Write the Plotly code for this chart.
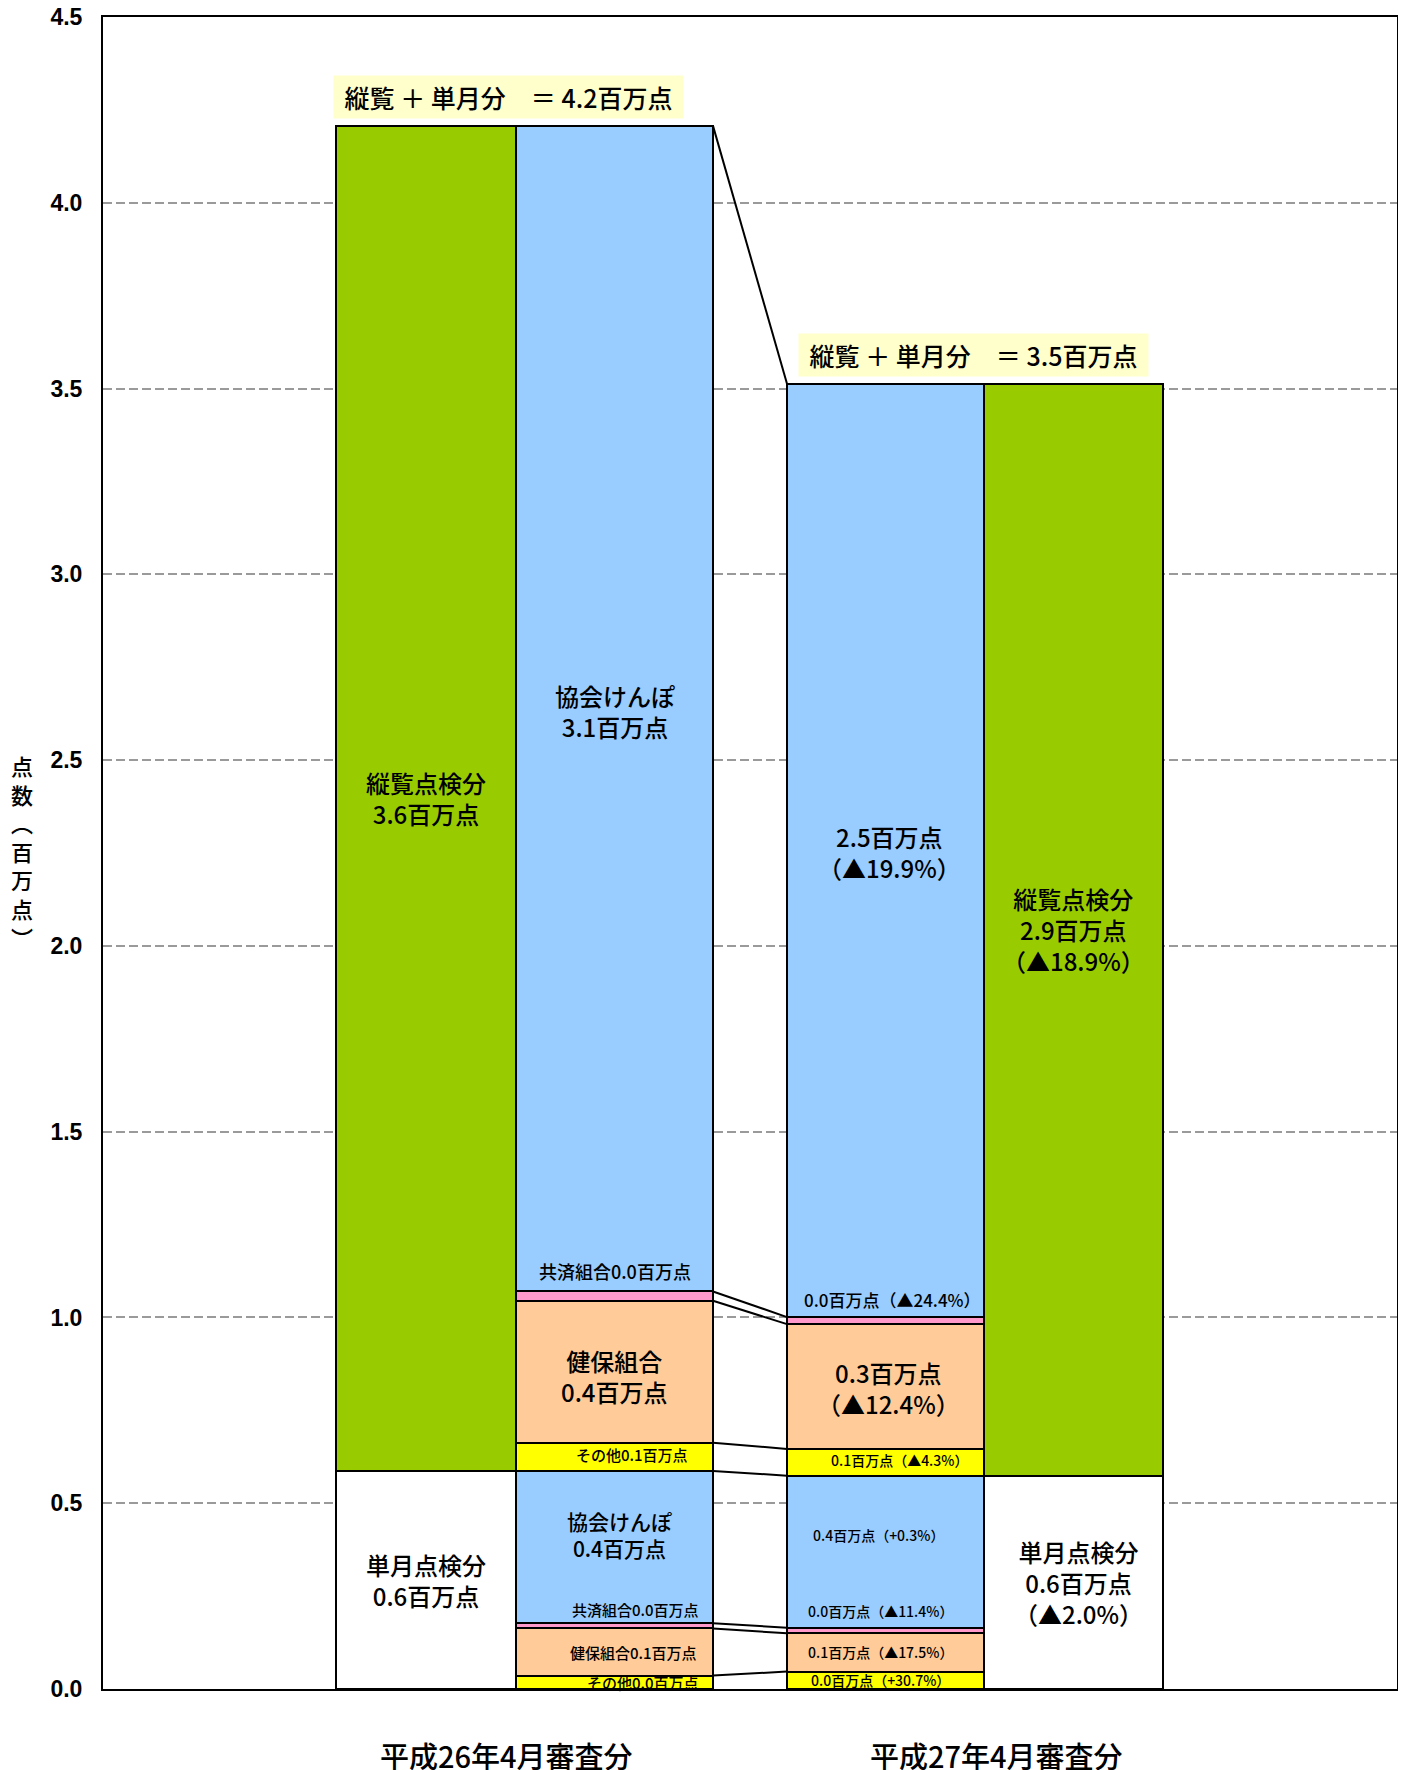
import numpy as np
import plotly.graph_objects as go

# ---------------- data (百万点) ----------------
categories = ["平成26年4月審査分", "平成27年4月審査分"]

# totals (left/right outer columns)
tangetsu_total = [0.587, 0.574]   # 単月点検分
juran_total = [3.620, 2.939]      # 縦覧点検分

# breakdown by insurer, 単月点検分
tan_sonota = [0.036, 0.047]
tan_kenpo = [0.127, 0.103]
tan_kyosai = [0.014, 0.015]
tan_kyokai = [0.410, 0.409]
# breakdown by insurer, 縦覧点検分
ju_sonota = [0.076, 0.072]
ju_kenpo = [0.382, 0.336]
ju_kyosai = [0.025, 0.019]
ju_kyokai = [3.137, 2.512]

y_ticks = [0.0, 0.5, 1.0, 1.5, 2.0, 2.5, 3.0, 3.5, 4.0, 4.5]

total_text = ["縦覧 ＋ 単月分　＝ 4.2百万点", "縦覧 ＋ 単月分　＝ 3.5百万点"]
juran_text = ["縦覧点検分<br>3.6百万点", "縦覧点検分<br>2.9百万点<br>（▲18.9%）"]
tangetsu_text = ["単月点検分<br>0.6百万点", "単月点検分<br>0.6百万点<br>（▲2.0%）"]
ju_kyokai_text = ["協会けんぽ<br>3.1百万点", "2.5百万点<br>（▲19.9%）"]
ju_kyosai_text = ["共済組合0.0百万点", "0.0百万点（▲24.4%）"]
ju_kenpo_text = ["健保組合<br>0.4百万点", "0.3百万点<br>（▲12.4%）"]
ju_sonota_text = ["その他0.1百万点", "0.1百万点（▲4.3%）"]
tan_kyokai_text = ["協会けんぽ<br>0.4百万点", "0.4百万点（+0.3%）"]
tan_kyosai_text = ["共済組合0.0百万点", "0.0百万点（▲11.4%）"]
tan_kenpo_text = ["健保組合0.1百万点", "0.1百万点（▲17.5%）"]
tan_sonota_text = ["その他0.0百万点", "0.0百万点（+30.7%）"]

# ---------------- layout constants ----------------
JP = "Noto Sans CJK JP"
GREEN, BLUE, PEACH, PINK, YELLOW = "#99CC00", "#99CCFF", "#FFCC99", "#FF99CC", "#FFFF00"
# column centres / widths on a 0..1294 horizontal scale
tot_x = [323.0, 970.5]
tot_w = [180.0, 179.0]
brk_x = [511.5, 782.5]
brk_w = [197.0, 197.0]

fig = go.Figure()
line = dict(color="black", width=2)

# outer columns: 単月 (white) + 縦覧 (green)
fig.add_trace(go.Bar(x=tot_x, y=tangetsu_total, width=tot_w,
                     marker=dict(color="white", line=line), hoverinfo="skip"))
fig.add_trace(go.Bar(x=tot_x, y=juran_total, width=tot_w,
                     marker=dict(color=GREEN, line=line), hoverinfo="skip"))

# breakdown columns
segments = [
    (tan_sonota, YELLOW), (tan_kenpo, PEACH), (tan_kyosai, PINK), (tan_kyokai, BLUE),
    (ju_sonota, YELLOW), (ju_kenpo, PEACH), (ju_kyosai, PINK), (ju_kyokai, BLUE),
]
for vals, col in segments:
    fig.add_trace(go.Bar(x=brk_x, y=vals, width=brk_w,
                         marker=dict(color=col, line=line), hoverinfo="skip"))

# cumulative boundaries of the breakdown columns
seg_vals = np.array([s[0] for s in segments])          # shape (8, 2)
cum = np.vstack([np.zeros(2), np.cumsum(seg_vals, axis=0)])  # shape (9, 2)

# connector lines between the two breakdown columns
x_left = brk_x[0] + brk_w[0] / 2
x_right = brk_x[1] - brk_w[1] / 2
cx, cy = [], []
for i in range(1, cum.shape[0]):
    cx += [x_left, x_right, None]
    cy += [cum[i, 0], cum[i, 1], None]
fig.add_trace(go.Scatter(x=cx, y=cy, mode="lines", line=dict(color="black", width=2),
                         hoverinfo="skip"))

annotations = []


def lab(x, y, text, size, yshift=0, xshift=0):
    annotations.append(dict(x=x, y=y, text=text, showarrow=False, xshift=xshift, yshift=yshift,
                            font=dict(family=JP, size=size, color="black", weight=500),
                            align="center"))


for k in range(2):
    # outer columns
    lab(tot_x[k], tangetsu_total[k] / 2, tangetsu_text[k], 24, 0, [0, 5][k])
    lab(tot_x[k], tangetsu_total[k] + juran_total[k] / 2, juran_text[k], 24)
    # breakdown columns
    mid = (cum[:-1, k] + cum[1:, k]) / 2
    bx = brk_x[k]
    lab(bx, mid[0], tan_sonota_text[k], [15, 14][k], 0, [28, -5][k])
    lab(bx, mid[1], tan_kenpo_text[k], [15, 14][k], 0, [19, -5][k])
    lab(bx, cum[3, k], tan_kyosai_text[k], [15, 14][k], [14, 17][k], [21, -5][k])
    lab(bx, mid[3], tan_kyokai_text[k], [21, 14][k], [13, 17][k], [5, -7][k])
    lab(bx, mid[4], ju_sonota_text[k], [15, 14][k], 2, [17, 14][k])
    lab(bx, mid[5], ju_kenpo_text[k], 24, [-4, -1][k], [0, 3][k])
    lab(bx, cum[7, k], ju_kyosai_text[k], [18, 17][k], [20, 18][k], [0, 7][k])
    lab(bx, mid[7], ju_kyokai_text[k], 24, [-2, -2][k], [0, 4][k])

# total boxes
box_x = [(tot_x[0] - tot_w[0] / 2 + x_left) / 2, (x_right + tot_x[1] + tot_w[1] / 2) / 2]
box_shift = [-16, -1.5]
for k in range(2):
    annotations.append(dict(x=box_x[k], y=cum[-1, k], yanchor="bottom", xanchor="center",
                            yshift=7, xshift=box_shift[k], text=total_text[k], showarrow=False,
                            width=349, height=42, bgcolor="#FFFFCC", borderpad=0,
                            font=dict(family=JP, size=25, color="black", weight=500)))

# category labels
cat_x = [403.5, 893.5]
for k in range(2):
    annotations.append(dict(x=cat_x[k], y=0, yanchor="middle", yshift=-66, text=categories[k],
                            showarrow=False,
                            font=dict(family=JP, size=29, color="black", weight=500)))

# y-axis title (vertical)
annotations.append(dict(xref="paper", yref="paper", x=-0.0626, y=0.501, xanchor="center",
                        yanchor="middle", text="点<br>数<br>︵<br>百<br>万<br>点<br>︶",
                        showarrow=False,
                        font=dict(family=JP, size=22, color="black", weight=500)))

# page body has an 8px default margin: shrink the figure so the plot area
# lands at x 103..1397, y 17..1689 of the 1406x1770 window
fig.update_layout(
    width=1398, height=1762,
    margin=dict(l=95, r=9, t=9, b=81),
    plot_bgcolor="white", paper_bgcolor="white",
    barmode="stack", showlegend=False,
    annotations=annotations,
    xaxis=dict(range=[0, 1294], showticklabels=False, showgrid=False, zeroline=False,
               showline=True, mirror=True, linecolor="black", linewidth=2, ticks="",
               automargin=False),
    yaxis=dict(range=[0, 4.5], tickvals=y_ticks, tickformat=".1f", showgrid=True,
               gridcolor="#9A9A9A", griddash="9px,4px", gridwidth=2, zeroline=False,
               showline=True, mirror=True, linecolor="black", linewidth=2, ticks="",
               ticklabelstandoff=14, automargin=False, ticklabeloverflow="allow",
               tickfont=dict(family="Liberation Sans", size=23, color="black", weight="bold")),
)

fig.write_html("out.html")
